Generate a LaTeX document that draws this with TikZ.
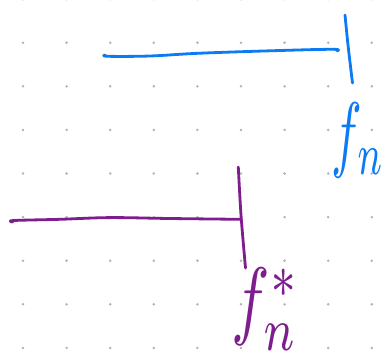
\documentclass[tikz,border=0pt]{standalone}
\usepackage{graphicx}
\definecolor{blueink}{RGB}{10,122,245}
\definecolor{purpleink}{RGB}{126,30,142}
\definecolor{dotgrey}{RGB}{180,180,180}
\begin{document}
\begin{tikzpicture}[x=1pt,y=-1pt,
  ink/.style={line width=2.8pt,line cap=round,line join=round},
  bluestroke/.style={ink,draw=blueink},
  purplestroke/.style={ink,draw=purpleink},
  griddot/.style={fill=dotgrey,draw=none}]
\useasboundingbox (0,0) rectangle (391,360);
\fill[white] (0,0) rectangle (391,360);
% dotted grid
\foreach \i in {0,...,8}{
  \foreach \j in {0,...,8}{
    \fill[griddot] ({23+43.6*\i},{-0.9+43.6*\j}) circle (1.4);
  }
}
% blue bracket
\draw[bluestroke] plot[smooth,tension=0.6] coordinates {(105,55) (108,56.3) (150,56) (200,53.2) (280,50.5) (333,49.3) (337,50.8)};
\draw[bluestroke] plot[smooth] coordinates {(345,15) (348,45) (352.5,83)};
\node[text=blueink,inner sep=0pt] (fn) at (358.5,140.5) {\resizebox*{53pt}{75pt}{$f_n$}};
% purple bracket
\draw[purplestroke] plot[smooth,tension=0.6] coordinates {(12.5,222) (14,220.5) (60,219.3) (110,217.6) (170,218.5) (240,219.3)};
\draw[purplestroke] plot[smooth] coordinates {(238.3,167) (241,215) (245.5,268)};
\node[text=purpleink,inner sep=0pt] (fnstar) at (266,309.5) {\resizebox*{68pt}{82pt}{$f_n^*$}};
\end{tikzpicture}
\end{document}
